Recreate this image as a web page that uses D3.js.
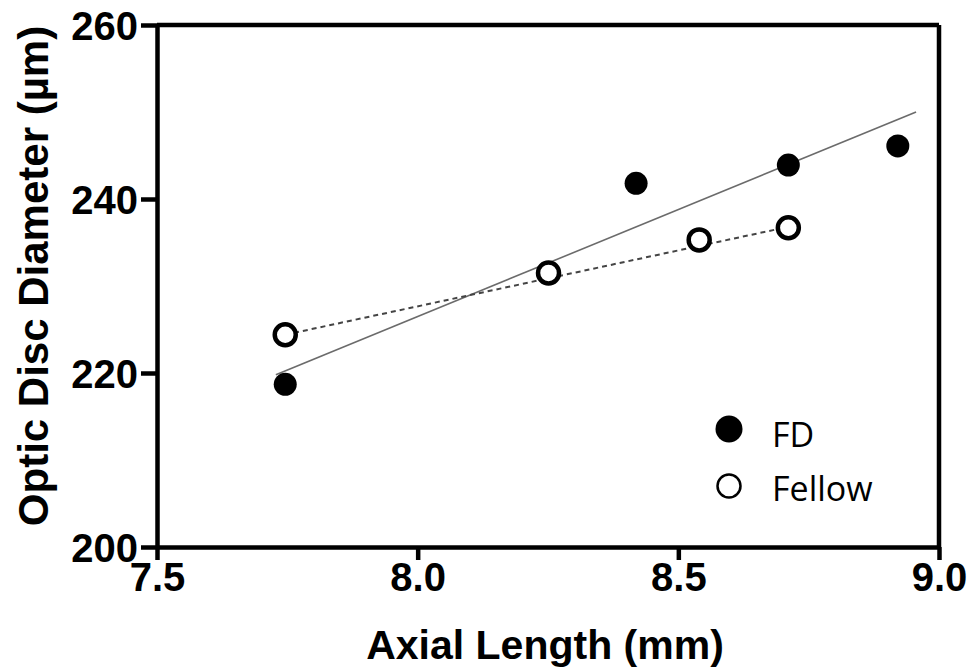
<!DOCTYPE html>
<html>
<head>
<meta charset="utf-8">
<script src="https://cdn.jsdelivr.net/npm/d3@7"></script>
<style>
  body { margin: 0; background: #fff; }
  svg { display: block; }
</style>
</head>
<body>
<div id="chart"></div>
<script>
// values
var fdX = [7.746, 8.419, 8.711, 8.921]
var fdY = [218.7, 241.8, 243.9, 246.1]
var fellowX = [7.746, 8.251, 8.540, 8.711]
var fellowY = [224.4, 231.5, 235.3, 236.7]
// fitted lines (end points as drawn)
var fdFitX = [7.728, 8.956]
var fdFitY = [219.8, 250.0]
var fellowFitX = [7.746, 8.711]
var fellowFitY = [224.4, 236.8]
var xTicks = [7.5, 8.0, 8.5, 9.0]
var yTicks = [200, 220, 240, 260]
var legendLabels = ["FD", "Fellow"]

var width = 968, height = 671
var margin = {top: 25, right: 29, bottom: 124, left: 157}
var w = width - margin.left - margin.right
var h = height - margin.top - margin.bottom

var svg = d3.select("#chart").append("svg")
    .attr("width", width)
    .attr("height", height)
var plot = svg.append("g")
    .attr("transform", `translate(${margin.left},${margin.top})`)

var xScale = d3.scaleLinear().domain([7.5, 9.0]).range([0, w])
var yScale = d3.scaleLinear().domain([200, 260]).range([h, 0])

var xAxis = d3.axisBottom(xScale).tickValues(xTicks).tickFormat(d3.format(".1f"))
    .tickSizeInner(13).tickSizeOuter(0).tickPadding(3)
var yAxis = d3.axisLeft(yScale).tickValues(yTicks)
    .tickSizeInner(16).tickSizeOuter(0).tickPadding(3)

var gx = plot.append("g")
    .attr("transform", `translate(0,${h})`)
    .call(xAxis)
var gy = plot.append("g").call(yAxis)

// right-side frame line
plot.append("line")
    .attr("x1", xScale(9.0)).attr("x2", xScale(9.0))
    .attr("y1", yScale(260)).attr("y2", yScale(200))
    .attr("stroke", "#000").attr("stroke-width", 4.5)

// top frame line
plot.append("line")
    .attr("x1", xScale(7.5)).attr("x2", xScale(9.0))
    .attr("y1", yScale(260)).attr("y2", yScale(260))
    .attr("stroke", "#000").attr("stroke-width", 4.5)

;[gx, gy].forEach(function(g){
    g.select(".domain").attr("stroke", "#000").attr("stroke-width", 4.5)
    g.selectAll(".tick line").attr("stroke", "#000").attr("stroke-width", 4.5)
    g.selectAll(".tick text")
        .attr("fill", "#000")
        .style("font-family", "'Liberation Sans', Arial, sans-serif")
        .style("font-weight", "bold")
        .style("font-size", "40px")
})
gx.selectAll(".tick text").attr("dy", "0.71em")
gy.selectAll(".tick text").attr("dy", "0.36em")

// axis titles
svg.append("text")
    .attr("x", margin.left + w / 2 - 3)
    .attr("y", 659)
    .attr("text-anchor", "middle")
    .style("font-family", "'Liberation Sans', Arial, sans-serif")
    .style("font-weight", "bold")
    .style("font-size", "41px")
    .text("Axial Length (mm)")

svg.append("text")
    .attr("transform", `translate(48,${margin.top + h / 2 - 10}) rotate(-90)`)
    .attr("text-anchor", "middle")
    .style("font-family", "'Liberation Sans', Arial, sans-serif")
    .style("font-weight", "bold")
    .style("font-size", "42px")
    .text("Optic Disc Diameter (\u00b5m)")

// fit lines
var line = d3.line().x(d => xScale(d[0])).y(d => yScale(d[1]))
plot.append("path")
    .datum(d3.zip(fdFitX, fdFitY))
    .attr("d", line)
    .attr("fill", "none")
    .attr("stroke", "#6b6b6b")
    .attr("stroke-width", 1.6)
plot.append("path")
    .datum(d3.zip(fellowFitX, fellowFitY))
    .attr("d", line)
    .attr("fill", "none")
    .attr("stroke", "#444")
    .attr("stroke-width", 2)
    .attr("stroke-dasharray", "5,4")

// points
plot.selectAll(".fd")
    .data(d3.zip(fdX, fdY))
    .enter().append("circle")
    .attr("class", "fd")
    .attr("cx", d => xScale(d[0]))
    .attr("cy", d => yScale(d[1]))
    .attr("r", 11.5)
    .attr("fill", "#000")
plot.selectAll(".fellow")
    .data(d3.zip(fellowX, fellowY))
    .enter().append("circle")
    .attr("class", "fellow")
    .attr("cx", d => xScale(d[0]))
    .attr("cy", d => yScale(d[1]))
    .attr("r", 10.5)
    .attr("fill", "#fff")
    .attr("stroke", "#000")
    .attr("stroke-width", 4.5)

// legend
var legend = svg.append("g").attr("transform", "translate(729,429)")
legend.append("circle").attr("cx", 0).attr("cy", 0).attr("r", 13.5).attr("fill", "#000")
legend.append("circle").attr("cx", 0).attr("cy", 57).attr("r", 11.5)
    .attr("fill", "#fff").attr("stroke", "#000").attr("stroke-width", 2.5)
legend.selectAll("text")
    .data(legendLabels)
    .enter().append("text")
    .attr("x", 43)
    .attr("y", (d, i) => i * 54 + 18)
    .style("font-family", "'Open Sans', 'Noto Sans', sans-serif")
    .style("font-size", "34px")
    .attr("fill", "#000")
    .text(d => d)
</script>
</body>
</html>
